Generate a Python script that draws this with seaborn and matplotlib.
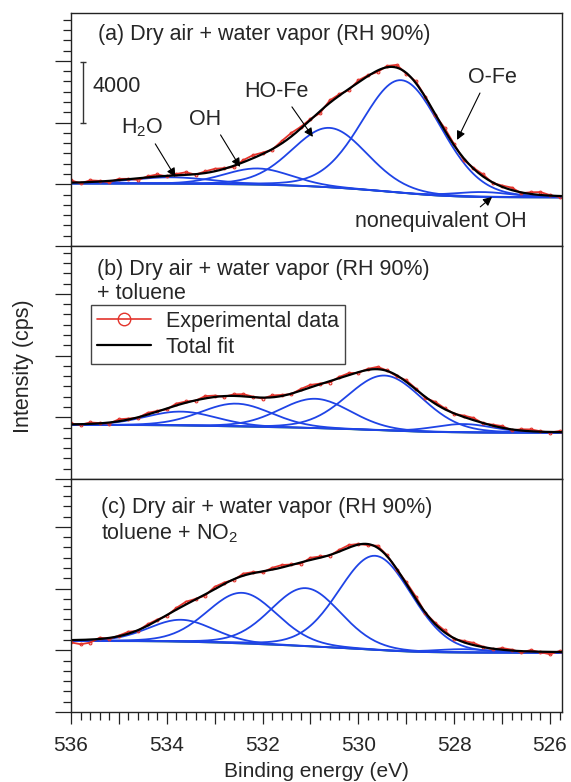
import numpy as np
import matplotlib
matplotlib.use("Agg")
import matplotlib.pyplot as plt
import seaborn as sns
from matplotlib.lines import Line2D
from matplotlib.ticker import MultipleLocator, AutoMinorLocator, FuncFormatter

# binding energy window (eV), high BE on the left
e_left, e_right = 536.0, 525.75

# (a) dry air + water vapour: H2O, OH, HO-Fe, O-Fe, nonequivalent OH
a_centers = [533.9, 532.1, 530.6, 529.1, 527.4]
a_heights = [420, 1050, 3850, 7300, 320]
a_fwhm = [2.0, 1.65, 1.85, 1.95, 1.4]
a_bg = [4050, 3150]          # background at 536 eV / at 525.75 eV
a_resid = [150, -60, 110, 40, -90, 80, 20, -110, 60, 130,
           -40, 90, 170, -30, 110, 160, 50, -80, 140, 200,
           90, -40, 160, 230, 110, 50, -130, 160, 90, -70,
           130, 50, -90, 80, 180, -50, 110, 30, -80, 150,
           70, -110, 50, 130, -30, 80, 160, -50, 110, 190,
           30, -70]

# (b) + toluene
b_centers = [533.7, 532.55, 530.9, 529.45, 527.8]
b_heights = [900, 1480, 1900, 3560, 540]
b_fwhm = [1.75, 1.75, 1.75, 1.85, 1.45]
b_bg = [3500, 3000]
b_resid = [60, -40, 90, 20, -70, 130, 60, -30, 110, 40,
           -60, 120, 80, -20, 150, 90, -40, 100, 140, 30,
           -60, 120, 70, -30, 110, 160, 40, -80, 90, 130,
           -40, 70, 150, 30, -60, 100, 50, -70, 120, 60,
           -30, 90, 140, -20, 60, 110, -50, 80, 120, 30,
           -40, 70]

# (c) toluene + NO2
c_centers = [533.7, 532.43, 531.1, 529.65, 527.8]
c_heights = [1420, 3280, 3760, 6100, 220]
c_fwhm = [1.6, 1.72, 1.72, 1.8, 1.4]
c_bg = [4600, 3840]
c_resid = [-150, -280, -200, 80, -60, 40, 120, -40, 90, 60,
           -50, 110, 180, 40, -80, 150, 90, -40, 130, 70,
           -60, 120, 160, 30, -90, 140, 80, -50, 110, 170,
           40, -70, 130, 60, -40, 100, 150, -30, 80, 120,
           -60, 90, 140, 20, -50, 110, 60, -80, 90, -40,
           -150, 60]

x_ticks_major = 1.0
y_ticks_major = 4000
y_max = 15100

RED = "#e3342c"
BLUE = "#1f44e6"
GREEN = "#3d9b3a"

sns.set_theme(style="ticks")
plt.rcParams["font.family"] = ["Liberation Sans", "DejaVu Sans"]
plt.rcParams["mathtext.default"] = "regular"

energy = np.round(np.arange(e_left, e_right - 1e-6, -0.05), 3)
exp_idx = np.arange(0, len(energy), 4)


def gl_peak(e, c, h, w, mix=0.1):
    # Gaussian-Lorentzian mix used by the fitting software
    x = (e - c) / w
    return h * ((1 - mix) * np.exp(-4 * np.log(2) * x ** 2) + mix / (1 + 4 * x ** 2))


def shirley(total, bg):
    area = np.cumsum(total[::-1])[::-1]
    return bg[1] + (bg[0] - bg[1]) * area / area[0]


def draw_panel(ax, centers, heights, fwhm, bg, resid):
    comps = [gl_peak(energy, c, h, w) for c, h, w in zip(centers, heights, fwhm)]
    peak_sum = np.sum(comps, axis=0)
    back = shirley(peak_sum, bg)
    fit = back + peak_sum
    exp_e = energy[exp_idx]
    exp_y = fit[exp_idx] + np.array(resid)

    sns.lineplot(x=energy, y=back, ax=ax, color=GREEN, lw=1.3, sort=False, estimator=None)
    for comp in comps:
        sns.lineplot(x=energy, y=back + comp, ax=ax, color=BLUE, lw=1.3, sort=False, estimator=None)
    sns.lineplot(x=exp_e, y=exp_y, ax=ax, color=RED, lw=1.3, marker="o", markersize=2,
                 markerfacecolor="none", markeredgecolor=RED, markeredgewidth=0.8,
                 sort=False, estimator=None)
    sns.lineplot(x=energy, y=fit, ax=ax, color="black", lw=1.6, sort=False, estimator=None)
    return fit


fig, axes = plt.subplots(3, 1, figsize=(5.71, 7.82), dpi=100, sharex=True)
fig.subplots_adjust(left=0.1243, right=0.9842, top=0.9834, bottom=0.0895, hspace=0)
ax_a, ax_b, ax_c = axes

draw_panel(ax_a, a_centers, a_heights, a_fwhm, a_bg, a_resid)
draw_panel(ax_b, b_centers, b_heights, b_fwhm, b_bg, b_resid)
draw_panel(ax_c, c_centers, c_heights, c_fwhm, c_bg, c_resid)

for ax in axes:
    ax.set_xlim(e_left, e_right)
    ax.set_ylim(0, y_max)
    ax.set_ylabel("")
    ax.set_xlabel("")
    for sp in ax.spines.values():
        sp.set_color("#222222")
        sp.set_linewidth(1.0)
    ax.yaxis.set_major_locator(MultipleLocator(y_ticks_major))
    ax.yaxis.set_minor_locator(AutoMinorLocator(6))
    ax.tick_params(axis="y", which="major", direction="out", length=11.5, width=0.9,
                   color="#222222", labelleft=False)
    ax.tick_params(axis="y", which="minor", direction="out", length=6, width=0.9,
                   color="#222222", left=True)
    ax.xaxis.set_major_locator(MultipleLocator(x_ticks_major))
    ax.xaxis.set_minor_locator(AutoMinorLocator(5))

for ax in (ax_a, ax_b):
    ax.tick_params(axis="x", which="both", bottom=False, labelbottom=False)

ax_c.xaxis.set_major_formatter(FuncFormatter(lambda v, p: f"{v:.0f}" if round(v) % 2 == 0 else ""))
ax_c.tick_params(axis="x", which="major", direction="out", length=8.5, width=0.9,
                 color="#222222", labelsize=15, pad=9)
ax_c.tick_params(axis="x", which="minor", direction="out", length=5.4, width=0.9,
                 color="#222222", bottom=True)
fig.text(316 / 571, 1 / 782, "Binding energy (eV)", ha="center", va="bottom", fontsize=15)
fig.text(23 / 571, 1 - 366 / 782, "Intensity (cps)", rotation=90, ha="center", va="center",
         fontsize=15.5)

fs = 15.5
# panel titles
ax_a.text(0.055, 0.906, "(a) Dry air + water vapor (RH 90%)", transform=ax_a.transAxes,
          fontsize=fs, va="center")
ax_b.text(0.053, 0.901, "(b) Dry air + water vapor (RH 90%)", transform=ax_b.transAxes,
          fontsize=fs, va="center")
ax_b.text(0.053, 0.798, "+ toluene", transform=ax_b.transAxes, fontsize=fs, va="center")
ax_c.text(0.061, 0.876, "(c) Dry air + water vapor (RH 90%)", transform=ax_c.transAxes,
          fontsize=fs, va="center")
ax_c.text(0.061, 0.768, "toluene + NO$_2$", transform=ax_c.transAxes, fontsize=fs, va="center")

# 4000 cps scale bar
ax_a.plot([535.75, 535.75], [7950, 11950], color="#333333", lw=1.0, marker="_", markersize=4)
ax_a.text(0.043, 0.684, "4000", transform=ax_a.transAxes, fontsize=fs, va="center")

# peak assignments
arrow = dict(arrowstyle="-|>", color="black", lw=0.8, mutation_scale=13, shrinkA=1, shrinkB=0)
labels = [("H$_2$O", (533.82, 4475), (0.1446, 0.506), (0.75, 0.0)),
          ("OH", (532.47, 5123), (0.2729, 0.541), (0.9, 0.0)),
          ("HO-Fe", (530.95, 7069), (0.4175, 0.661), (0.7, 0.0)),
          ("O-Fe", (527.94, 6874), (0.8574, 0.721), (0.3, 0.0)),
          ("nonequivalent OH", (527.21, 3178), (0.7536, 0.105), (0.7, 1.0))]
for txt, tip, pos, rel in labels:
    ax_a.annotate(txt, xy=tip, xycoords="data", xytext=pos, textcoords="axes fraction",
                  fontsize=fs, ha="center", va="center",
                  arrowprops=dict(arrow, relpos=rel))

handles = [Line2D([], [], color=RED, lw=1.2, marker="o", markersize=9,
                  markerfacecolor="none", markeredgewidth=1.0),
           Line2D([], [], color="black", lw=1.6)]
leg = ax_b.legend(handles, ["Experimental data", "Total fit"], loc="upper left",
                  bbox_to_anchor=(0.0407, 0.747), borderaxespad=0, fontsize=fs,
                  frameon=True, fancybox=False, edgecolor="#444444", framealpha=1,
                  handlelength=2.5, handletextpad=0.7, labelspacing=0.22, borderpad=0.28)
leg.get_frame().set_linewidth(1.0)

fig.savefig("out.png", dpi=100)
